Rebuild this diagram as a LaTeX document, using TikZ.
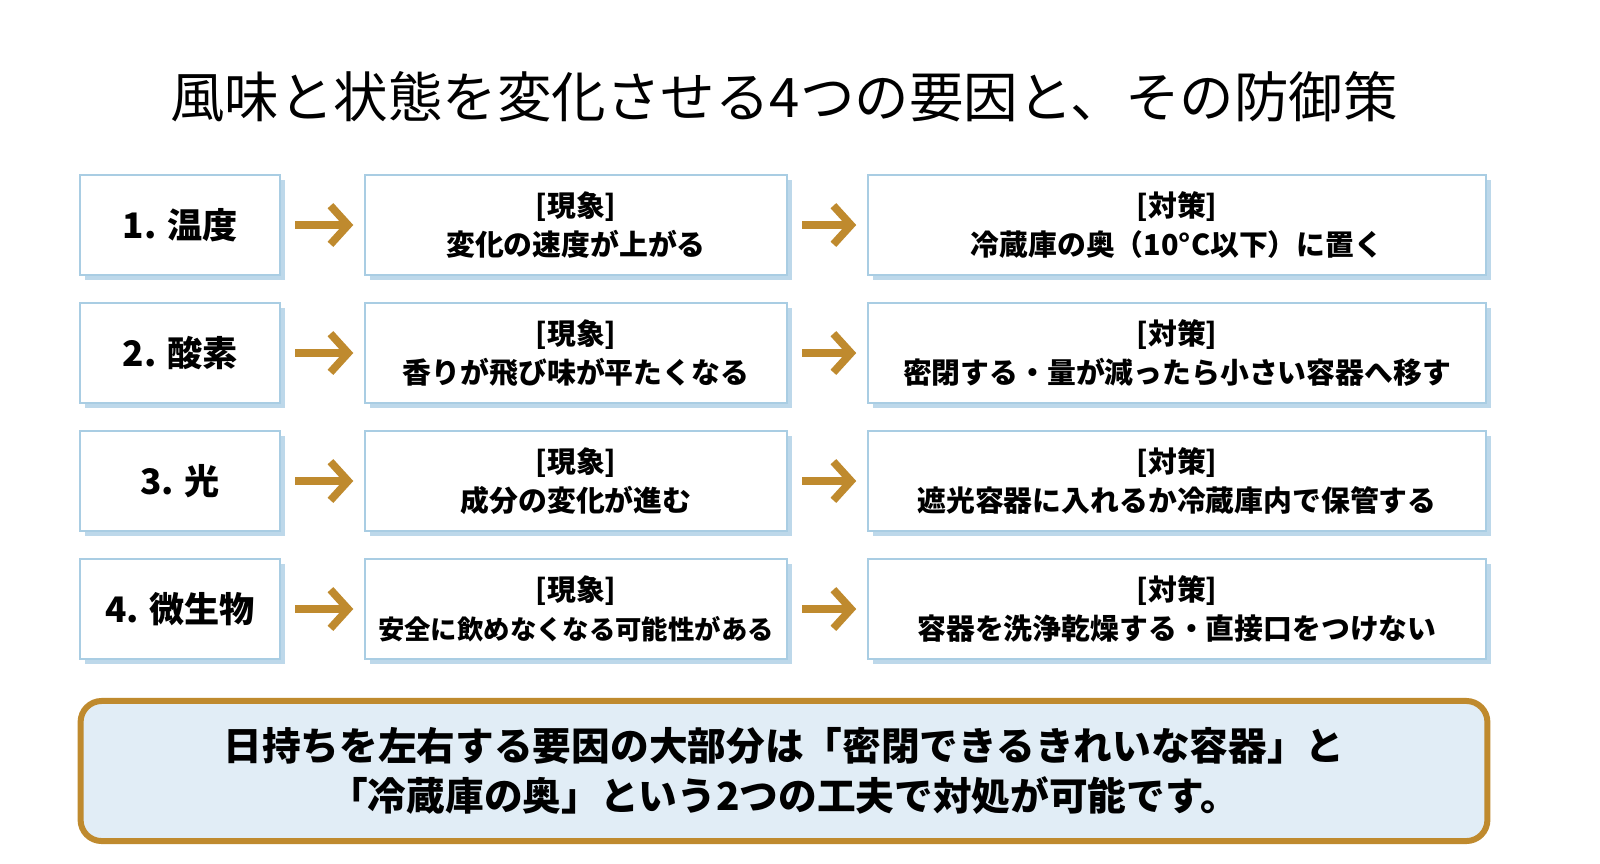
\documentclass[tikz,border=0pt]{standalone}
\usepackage{fontspec}
\setmainfont{Noto Sans CJK JP}
\usetikzlibrary{arrows.meta}
\definecolor{bb}{HTML}{A9CDE3}
\definecolor{sh}{HTML}{BDD8EA}
\definecolor{gold}{HTML}{BF8A2E}
\definecolor{fillb}{HTML}{E1EDF6}
\tikzset{
 box/.style={draw=bb,line width=0.6pt,fill=white,minimum height=1cm,align=center,inner sep=0pt},
 shad/.style={fill=sh},
 arr/.style={draw=gold,line width=2.2pt,-{Straight Barb[length=5pt,width=11pt]}},
 t1/.style={font=\fontsize{10pt}{11pt}\selectfont\bfseries},
 t2/.style={font=\fontsize{8.2pt}{11pt}\selectfont\bfseries},
}
\newcommand{\smtxt}[1]{{\fontsize{7.5pt}{11pt}\selectfont #1}}
\begin{document}
\begin{tikzpicture}[x=0.01cm,y=-0.01cm]
\useasboundingbox (0,0) rectangle (1600,863);
\fill[white] (0,0) rectangle (1600,863);
\node[font=\fontsize{15.5pt}{18pt}\selectfont] (title) at (784,97) {風味と状態を変化させる4つの要因と、その防御策};
\foreach \i/\y/\a/\b/\c in {
 1/225/{1. 温度}/{[現象]\\変化の速度が上がる}/{[対策]\\冷蔵庫の奥（10°C以下）に置く},
 2/353/{2. 酸素}/{[現象]\\香りが飛び味が平たくなる}/{[対策]\\密閉する・量が減ったら小さい容器へ移す},
 3/481/{3. 光}/{[現象]\\成分の変化が進む}/{[対策]\\遮光容器に入れるか冷蔵庫内で保管する},
 4/609/{4. 微生物}/{[現象]\\\smtxt{安全に飲めなくなる可能性がある}}/{[対策]\\容器を洗浄乾燥する・直接口をつけない}}{
 \fill[shad] (85,\y-45) rectangle (285,\y+55);
 \fill[shad] (370,\y-45) rectangle (792,\y+55);
 \fill[shad] (873,\y-45) rectangle (1491,\y+55);
 \node[box,t1,minimum width=2cm] (f\i) at (180,\y) {\a};
 \node[box,t2,minimum width=4.22cm] (p\i) at (576,\y) {\b};
 \node[box,t2,minimum width=6.18cm] (m\i) at (1177,\y) {\c};
 \draw[arr] ([xshift=4pt]f\i.east) -- ([xshift=-3pt]p\i.west);
 \draw[arr] ([xshift=4pt]p\i.east) -- ([xshift=-3pt]m\i.west);
}
\node[draw=gold,line width=1.7pt,fill=fillb,rounded corners=6pt,minimum width=14.06cm,minimum height=1.4cm,align=center,font=\fontsize{11pt}{14pt}\selectfont\bfseries] (sum) at (784,771) {日持ちを左右する要因の大部分は「密閉できるきれいな容器」と\\「冷蔵庫の奥」という2つの工夫で対処が可能です。};
\end{tikzpicture}
\end{document}
